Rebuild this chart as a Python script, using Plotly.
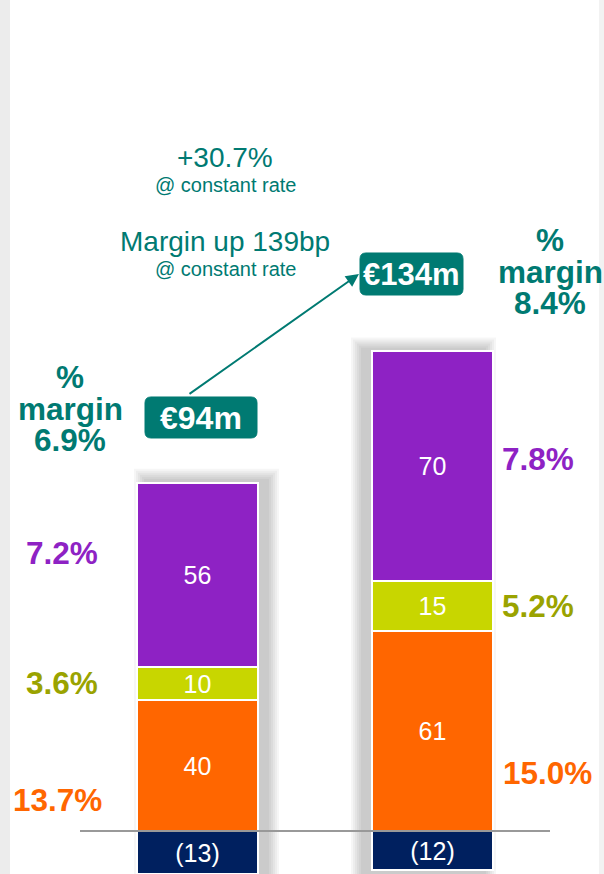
import plotly.graph_objects as go

# ---------------- data ----------------
periods = ["Prior year", "Current year"]
seg_names = ["Other", "Segment A", "Segment B", "Segment C"]
other = [-13, -12]          # navy, negative
seg_a = [40, 61]            # orange
seg_b = [10, 15]            # lime
seg_c = [56, 70]            # purple
totals_label = ["€94m", "€134m"]
margin_total = ["6.9%", "8.4%"]
margin_a = ["13.7%", "15.0%"]
margin_b = ["3.6%", "5.2%"]
margin_c = ["7.2%", "7.8%"]
growth_text = "+30.7%"
margin_text = "Margin up 139bp"
sub_text = "@ constant rate"

# ---------------- styling ----------------
W, H = 604, 874
FONT = "Liberation Sans, Arial, sans-serif"
TEAL = "#007A72"
NAVY = "#00205F"
ORANGE = "#FF6600"
LIME = "#C8D600"
PURPLE = "#8E22C4"
OLIVE = "#9AA300"

Y0_PX = 831.0          # pixel row of zero line
PX_PER_UNIT = 3.285
y_range = [-(H - Y0_PX) / PX_PER_UNIT, Y0_PX / PX_PER_UNIT]
X_UNIT = 235.0
X0_PX = 197.5
x_range = [-X0_PX / X_UNIT, (W - X0_PX) / X_UNIT]
BAR_W = 121 / X_UNIT

def px(xp):
    return xp / W

def py(yp):
    return 1 - yp / H

xs = list(range(len(periods)))

def lab(v):
    return f"({abs(v)})" if v < 0 else str(v)

fig = go.Figure()

# shadows (soft, built from the stack totals)
shapes = []
for i, x in enumerate(xs):
    top = seg_a[i] + seg_b[i] + seg_c[i]
    dx = (9 if i == 0 else -9) / X_UNIT
    for k in range(1, 7):
        e = 2.0 * k
        shapes.append(dict(
            type="rect", xref="x", yref="y", layer="below",
            x0=x - BAR_W / 2 + dx - e / X_UNIT, x1=x + BAR_W / 2 + dx + e / X_UNIT,
            y0=y_range[0], y1=top + (2 + e) / PX_PER_UNIT,
            fillcolor="rgba(0,0,0,0.035)", line=dict(width=0)))

series = [(other, NAVY), (seg_a, ORANGE), (seg_b, LIME), (seg_c, PURPLE)]
for (vals, col), name in zip(series, seg_names):
    fig.add_trace(go.Bar(
        x=xs, y=vals, name=name, width=BAR_W,
        marker=dict(color=col, line=dict(color="white", width=2)),
        text=[lab(v) for v in vals], textposition="inside",
        insidetextanchor="middle", textangle=0, constraintext="none",
        textfont=dict(family=FONT, size=25, color="white"),
        hoverinfo="skip"))

# borders and baseline
shapes.append(dict(type="rect", xref="paper", yref="paper", x0=0, x1=px(10), y0=0, y1=1,
                   fillcolor="#ececec", line=dict(width=0), layer="below"))
shapes.append(dict(type="rect", xref="paper", yref="paper", x0=px(599), x1=1, y0=0, y1=1,
                   fillcolor="#f2f2f2", line=dict(width=0), layer="below"))
shapes.append(dict(type="line", xref="paper", yref="y", x0=px(80), x1=px(550), y0=0, y1=0,
                   line=dict(color="#999999", width=2), layer="above"))

# rounded boxes for the totals (pixel geometry -> paper)
def rounded(x0, y0, x1, y1, r=6):
    pts = []
    def P(a, b):
        return f"{px(a):.5f},{py(b):.5f}"
    path = (f"M {P(x0 + r, y0)} L {P(x1 - r, y0)} Q {P(x1, y0)} {P(x1, y0 + r)} "
            f"L {P(x1, y1 - r)} Q {P(x1, y1)} {P(x1 - r, y1)} "
            f"L {P(x0 + r, y1)} Q {P(x0, y1)} {P(x0, y1 - r)} "
            f"L {P(x0, y0 + r)} Q {P(x0, y0)} {P(x0 + r, y0)} Z")
    return dict(type="path", xref="paper", yref="paper", path=path,
                fillcolor=TEAL, line=dict(color=TEAL, width=1), layer="above")

shapes.append(rounded(145, 397, 257, 438))
shapes.append(rounded(360, 253, 463, 295))

ann = []

def text(x, y, s, size, color, bold=False):
    ann.append(dict(xref="paper", yref="paper", x=px(x), y=py(y), text=f"<b>{s}</b>" if bold else s,
                    showarrow=False, xanchor="center", yanchor="middle",
                    font=dict(family=FONT, size=size, color=color)))

text(225, 157, growth_text, 28, TEAL)
text(225, 185, sub_text, 20, TEAL)
text(225, 241, margin_text, 28, TEAL)
text(225, 269, sub_text, 20, TEAL)

# arrow
ann.append(dict(xref="paper", yref="paper", x=px(359), y=py(274), ax=188 - 359, ay=395 - 274,
                axref="pixel", ayref="pixel", showarrow=True, arrowhead=2, arrowsize=1.3,
                arrowwidth=2, arrowcolor=TEAL, text=""))

# total labels
text(201, 418, totals_label[0], 32, "white", True)
text(411.5, 274.5, totals_label[1], 31, "white", True)

# % margin blocks
for cx, ys, val in [(70, (377, 409, 440), margin_total[0]), (550, (240, 272, 303), margin_total[1])]:
    text(cx, ys[0], "%", 31.5, TEAL, True)
    text(cx, ys[1], "margin", 31.5, TEAL, True)
    text(cx, ys[2], val, 31.5, TEAL, True)

# segment margins
text(62, 553, margin_c[0], 31.5, PURPLE, True)
text(62, 683, margin_b[0], 31.5, OLIVE, True)
text(57, 800, margin_a[0], 31.5, ORANGE, True)
text(538, 459, margin_c[1], 31.5, PURPLE, True)
text(538, 606, margin_b[1], 31.5, OLIVE, True)
text(547, 773, margin_a[1], 31.5, ORANGE, True)

fig.update_layout(
    width=W, height=H, barmode="relative", bargap=0,
    margin=dict(l=0, r=0, t=0, b=0),
    paper_bgcolor="white", plot_bgcolor="white",
    showlegend=False, shapes=shapes, annotations=ann,
    xaxis=dict(range=x_range, visible=False, fixedrange=True),
    yaxis=dict(range=y_range, visible=False, fixedrange=True),
    font=dict(family=FONT),
)

fig.write_html("out.html", config={"displayModeBar": False},
               post_script="document.body.style.margin='0';document.body.style.overflow='hidden';")
